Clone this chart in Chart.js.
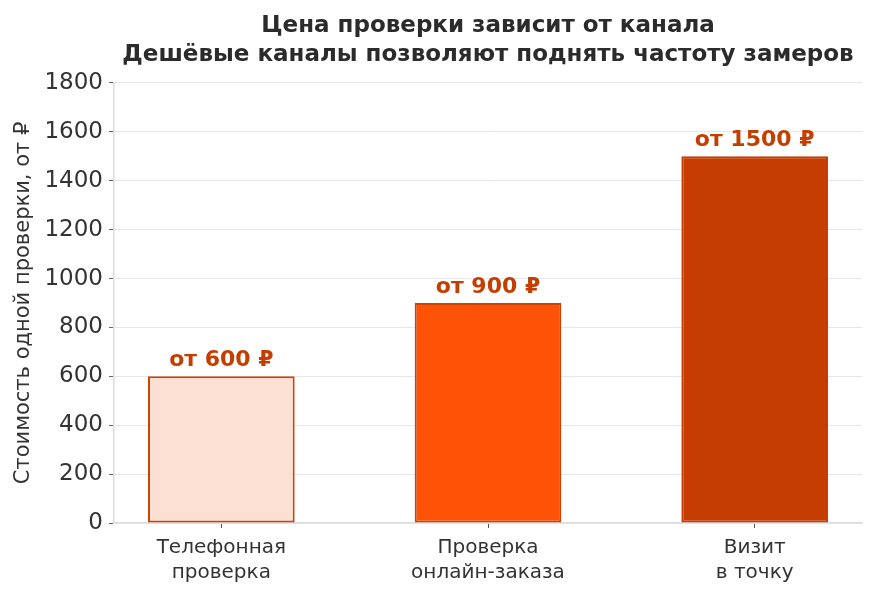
<!DOCTYPE html>
<html>
<head>
<meta charset="utf-8">
<script src="https://cdn.jsdelivr.net/npm/chart.js@4"></script>
<style>
  html, body { margin: 0; padding: 0; background: #fff; }
  #wrap { width: 873px; height: 596px; }
</style>
</head>
<body>
<div id="wrap"><canvas id="chart" width="873" height="596"></canvas></div>
<script>
// chart data
const categories = [['Телефонная', 'проверка'], ['Проверка', 'онлайн-заказа'], ['Визит', 'в точку']];
const prices = [600, 900, 1500];
const priceLabels = ['от 600 ₽', 'от 900 ₽', 'от 1500 ₽'];
const barColors = ['#fde0d4', '#fe5307', '#c63d00'];
const barBorders = ['#cc4400', '#cc4400', '#c63d00'];
const yTicks = [0, 200, 400, 600, 800, 1000, 1200, 1400, 1600, 1800];

const FONT = "'DejaVu Sans', sans-serif";
const TEXT = '#333333';

// draw "от ... ₽" above every bar
const valueLabels = {
    id: 'valueLabels',
    afterDatasetsDraw(chart) {
        const ctx = chart.ctx;
        const meta = chart.getDatasetMeta(0);
        ctx.save();
        ctx.font = 'bold 22px ' + FONT;
        ctx.fillStyle = '#c43e00';
        ctx.textAlign = 'center';
        ctx.textBaseline = 'bottom';
        meta.data.forEach((bar, i) => {
            ctx.fillText(priceLabels[i], bar.x, bar.y - 5);
        });
        ctx.restore();
    }
};

new Chart(document.getElementById('chart'), {
    type: 'bar',
    data: {
        datasets: [{
            data: prices.map((v, i) => ({ x: i, y: v })),
            backgroundColor: barColors,
            borderColor: barBorders,
            borderWidth: 2,
            borderSkipped: false,
            barPercentage: 0.55,
            categoryPercentage: 1
        }]
    },
    options: {
        responsive: false,
        animation: false,
        layout: { padding: { left: 0, right: 11, top: 0, bottom: 0 } },
        plugins: {
            legend: { display: false },
            tooltip: { enabled: false },
            title: {
                display: true,
                fullSize: false,
                text: ['Цена проверки зависит от канала', 'Дешёвые каналы позволяют поднять частоту замеров'],
                color: '#2b2b2b',
                font: { family: FONT, size: 23, weight: 'bold', lineHeight: 1.26 },
                padding: { top: 12, bottom: 13 }
            }
        },
        scales: {
            x: {
                type: 'linear',
                offset: false,
                min: -0.4025,
                max: 2.4025,
                afterBuildTicks(scale) {
                    scale.ticks = categories.map((c, i) => ({ value: i }));
                },
                afterFit(scale) {
                    scale.height = 73;
                },
                ticks: {
                    callback: (v) => categories[v],
                    color: TEXT,
                    font: { family: FONT, size: 20, lineHeight: 1.25 },
                    padding: 7
                },
                grid: {
                    offset: false,
                    drawOnChartArea: false,
                    tickColor: '#555',
                    tickLength: 5
                },
                border: { color: '#dcdce3', width: 1.5 }
            },
            y: {
                min: 0,
                max: 1800,
                afterBuildTicks(scale) {
                    scale.ticks = yTicks.map(v => ({ value: v }));
                },
                afterFit(scale) {
                    scale.width = 114;
                },
                ticks: {
                    callback: (v) => String(v),
                    color: TEXT,
                    font: { family: FONT, size: 23 },
                    padding: 6
                },
                grid: {
                    color: '#e6e6eb',
                    tickColor: '#666',
                    tickLength: 5
                },
                border: { color: '#dcdce3', width: 1.5 },
                title: {
                    display: true,
                    text: 'Стоимость одной проверки, от ₽',
                    color: TEXT,
                    font: { family: FONT, size: 21 },
                    padding: { top: 11, bottom: 0 }
                }
            }
        }
    },
    plugins: [valueLabels]
});
</script>
</body>
</html>
